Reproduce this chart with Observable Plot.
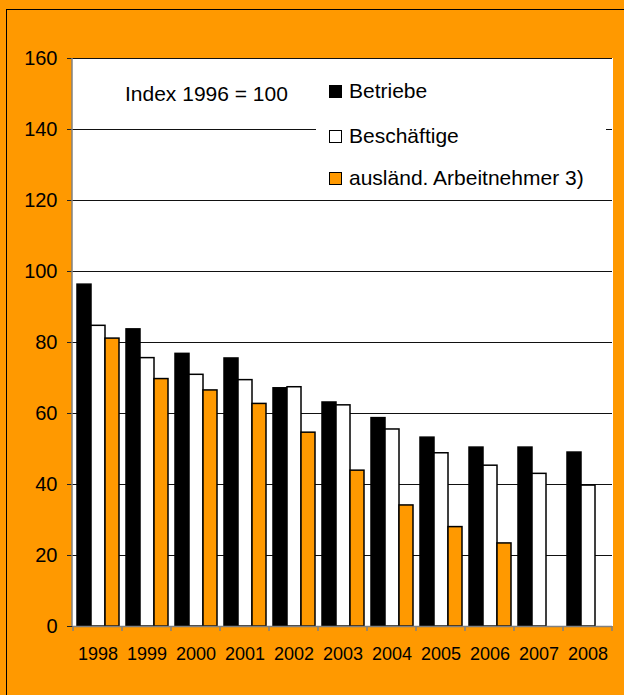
<!DOCTYPE html>
<html>
<head>
<meta charset="utf-8">
<script src="https://cdn.jsdelivr.net/npm/d3@7"></script>
<script src="https://cdn.jsdelivr.net/npm/@observablehq/plot@0.6"></script>
<style>
  html, body { margin: 0; padding: 0; background: #FF9900; }
  #wrap { position: relative; width: 624px; height: 695px; background: #FF9900; overflow: hidden;
          font-family: "Liberation Sans", Arial, sans-serif; color: #000; }
  #border { position: absolute; left: 6px; top: 9px; width: 800px; height: 900px;
            border-left: 1.5px solid #000; border-top: 1.5px solid #000; box-sizing: border-box; }
  #chart { position: absolute; left: 0; top: 0; }
  .note { position: absolute; font-size: 21px; line-height: 21px; white-space: nowrap; }
  #legend { position: absolute; left: 316px; top: 66px; width: 290px; height: 128px; background: #fff; }
  .item { position: absolute; left: 13px; height: 21px; display: flex; align-items: flex-end; }
  .sw { width: 13px; height: 13px; box-sizing: border-box; border: 1.5px solid #000; margin-right: 7px; margin-bottom: 3px; }
  .lab { font-size: 21px; line-height: 21px; white-space: nowrap; }
</style>
</head>
<body>
<div id="wrap">
  <div id="border"></div>
  <div id="chart"></div>
  <div class="note" style="left:125px; top:83px;">Index 1996 = 100</div>
  <div id="legend"></div>
</div>
<script>
const years = ["1998", "1999", "2000", "2001", "2002", "2003", "2004", "2005", "2006", "2007", "2008"];
const series = ["Betriebe", "Beschäftige", "ausländ. Arbeitnehmer 3)"];
const betriebe      = [96.3, 83.7, 76.8, 75.5, 67.1, 63.1, 58.7, 53.2, 50.4, 50.4, 49.0];
const beschaeftigte = [84.7, 75.6, 70.9, 69.4, 67.4, 62.3, 55.5, 48.8, 45.3, 43.0, 39.7];
const auslaend      = [81.1, 69.7, 66.5, 62.7, 54.6, 43.9, 34.1, 28.0, 23.4, null, null];
const yTicks = [0, 20, 40, 60, 80, 100, 120, 140, 160];
const colors = ["#000000", "#FFFFFF", "#FF9900"];

const valuesBySeries = [betriebe, beschaeftigte, auslaend];
const rows = [];
years.forEach((yr, i) => {
  valuesBySeries.forEach((arr, j) => {
    if (arr[i] != null) rows.push({year: yr, series: series[j], value: arr[i]});
  });
});

const chart = Plot.plot({
  width: 624,
  height: 695,
  marginLeft: 72,
  marginRight: 11,
  marginTop: 58,
  marginBottom: 69,
  style: {background: "transparent", fontFamily: "'Liberation Sans', Arial, sans-serif", color: "#000"},
  fx: {domain: years, padding: 0, label: null},
  x: {domain: series, axis: null, paddingInner: 0, paddingOuter: 0.15},
  y: {domain: [0, 160], label: null},
  color: {domain: series, range: colors},
  marks: [
    Plot.gridY(yTicks, {stroke: "#111", strokeOpacity: 1, strokeWidth: 1}),
    Plot.barY(rows, {fx: "year", x: "series", y: "value", fill: "series", stroke: "#000", strokeWidth: 1.5}),
    Plot.ruleY([0], {stroke: "#808080", strokeWidth: 1.5}),
    Plot.axisY({ticks: yTicks, tickSize: 6, tickPadding: 10, fontSize: 20, label: null, stroke: "#222"}),
    Plot.axisFx({anchor: "bottom", tickSize: 0, tickPadding: 21, fontSize: 18, label: null})
  ]
});
document.getElementById("chart").appendChild(chart);

// white plot area, axis line and category-boundary ticks, placed with the plot's own scales
const fx = chart.scale("fx");
const ys = chart.scale("y");
const svg = d3.select(chart);
const [y0, y1] = ys.range;
const xLeft = fx.range[0], xRight = fx.range[1];
svg.insert("rect", ":first-child")
  .attr("x", xLeft).attr("y", y1).attr("width", xRight - xLeft).attr("height", y0 - y1)
  .attr("fill", "#fff");
const g = svg.append("g").attr("stroke", "#808080").attr("stroke-width", 1.5);
g.append("line").attr("x1", xLeft).attr("x2", xLeft).attr("y1", y0).attr("y2", y1);
const bounds = years.map(y => fx.apply(y)).concat([fx.apply(years[years.length - 1]) + fx.bandwidth]);
bounds.forEach(x => {
  g.append("line").attr("x1", x).attr("x2", x).attr("y1", y0).attr("y2", y0 + 5);
});

// legend
const legend = document.getElementById("legend");
const tops = [14, 59, 101];
series.forEach((s, i) => {
  const item = document.createElement("div");
  item.className = "item";
  item.style.top = tops[i] + "px";
  const sw = document.createElement("div");
  sw.className = "sw";
  sw.style.background = colors[i];
  const lab = document.createElement("div");
  lab.className = "lab";
  lab.textContent = s;
  item.appendChild(sw);
  item.appendChild(lab);
  legend.appendChild(item);
});
</script>
</body>
</html>
